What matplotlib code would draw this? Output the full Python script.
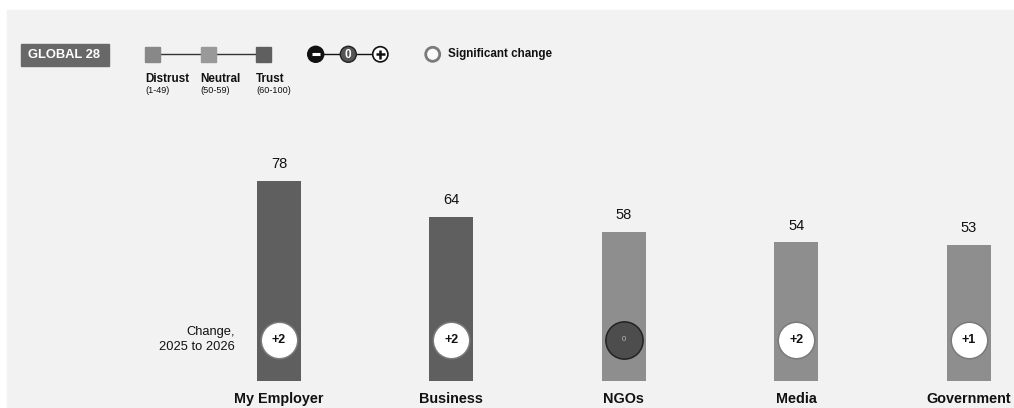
import matplotlib.pyplot as plt
from matplotlib.patches import Rectangle, Circle

plt.rcParams['font.family'] = ['Liberation Sans', 'DejaVu Sans']

# data
categories = ['My Employer', 'Business', 'NGOs', 'Media', 'Government']
trust = [78, 64, 58, 54, 53]
change = [2, 2, 0, 2, 1]
change_labels = ['+2', '+2', '0', '+2', '+1']
legend_levels = ['Distrust', 'Neutral', 'Trust']
legend_ranges = ['(1-49)', '(50-59)', '(60-100)']

TRUST_COL = '#5f5f5f'
NEUTRAL_COL = '#8e8e8e'
DISTRUST_COL = '#888888'
PANEL = '#f2f2f2'

W, H = 1014, 408
fig = plt.figure(figsize=(W / 100, H / 100), dpi=100)
fig.patch.set_facecolor('white')

# background panel (pixel coords)
fig.patches.append(Rectangle((7 / W, 0), 1 - 7 / W, (H - 10) / H,
                             transform=fig.transFigure, color=PANEL, zorder=-10))

# --- bar axes: y=0 at pixel 381, 2.568 px per unit
px_per_unit = 2.568
bottom_px = 381
top_px = 10
ax = fig.add_axes([0, (H - bottom_px) / H, 1, (bottom_px - top_px) / H])
ax.patch.set_alpha(0)
spacing = 172.4
x0 = 279
ax.set_xlim(-x0 / spacing, (W - x0) / spacing)
ax.set_ylim(0, (bottom_px - top_px) / px_per_unit)

xs = list(range(len(categories)))
colors = [TRUST_COL if v >= 60 else (NEUTRAL_COL if v >= 50 else DISTRUST_COL) for v in trust]
ax.bar(xs, trust, width=0.255, color=colors, zorder=2)

for x, v in zip(xs, trust):
    ax.annotate(str(v), (x, v), xytext=(0, 12), textcoords='offset points',
                ha='center', va='center', fontsize=10.5, color='#111111')

circle_y = (bottom_px - 339.6) / px_per_unit
for x, c, lab in zip(xs, change, change_labels):
    if c > 0:
        ax.scatter([x], [circle_y], s=690, facecolor='white', edgecolor='#7a7a7a',
                   linewidth=1.1, zorder=3)
        ax.text(x, circle_y, lab, ha='center', va='center', fontsize=9,
                fontweight='bold', color='#111111', zorder=4)
    else:
        ax.scatter([x], [circle_y], s=720, facecolor='#4d4d4d', edgecolor='#222222',
                   linewidth=1.1, zorder=3)
        ax.text(x, circle_y, lab, ha='center', va='center', fontsize=5.5,
                color='#bbbbbb', zorder=4)

ax.set_xticks(xs)
ax.set_xticklabels(categories, fontsize=10.4, fontweight='bold', color='#111111')
ax.tick_params(axis='x', length=0, pad=8)
ax.set_yticks([])
for s in ax.spines.values():
    s.set_visible(False)

# --- overlay axes in pixel coordinates for legend / notes
lx = fig.add_axes([0, 0, 1, 1])
lx.set_xlim(0, W)
lx.set_ylim(H, 0)
lx.axis('off')
lx.patch.set_alpha(0)

lx.add_patch(Rectangle((20.5, 43.5), 88.5, 22.5, color='#686868'))
lx.text(64.5, 55, 'GLOBAL 28', ha='center', va='center', fontsize=9.3,
        fontweight='bold', color='white')

sq_x = [152.5, 208, 263.5]
sq_cols = [DISTRUST_COL, '#999999', TRUST_COL]
lx.plot([sq_x[0], sq_x[-1]], [54, 54], color='#333333', lw=1, zorder=1)
for x, col, lev, rng in zip(sq_x, sq_cols, legend_levels, legend_ranges):
    lx.add_patch(Rectangle((x - 7.5, 46.5), 15, 15, color=col, zorder=2))
    lx.text(x - 7.5, 78.5, lev, ha='left', va='center', fontsize=8.4,
            fontweight='bold', color='#111111')
    lx.text(x - 7.5, 90.5, rng, ha='left', va='center', fontsize=6.6,
            color='#111111')

# minus / zero / plus
cy = 54.3
lx.plot([315.7, 380.3], [cy, cy], color='#111111', lw=1, zorder=1)
lx.add_patch(Circle((315.7, cy), 8, facecolor='#111111', edgecolor='#111111', zorder=2))
lx.plot([311.5, 319.9], [cy, cy], color='white', lw=2.2, solid_capstyle='butt', zorder=3)
lx.add_patch(Circle((348.3, cy), 8, facecolor='#555555', edgecolor='#222222', lw=1, zorder=2))
lx.text(348.3, cy + 0.5, '0', ha='center', va='center', fontsize=8.5,
        fontweight='bold', color='white', zorder=3)
lx.add_patch(Circle((380.3, cy), 7.6, facecolor='white', edgecolor='#111111', lw=1.2, zorder=2))
lx.plot([375.5, 385.1], [cy, cy], color='#111111', lw=1.8, solid_capstyle='butt', zorder=3)
lx.plot([380.3, 380.3], [cy - 4.8, cy + 4.8], color='#111111', lw=1.8,
        solid_capstyle='butt', zorder=3)

# significant change ring
lx.add_patch(Circle((432.7, cy), 7, facecolor='#fafafa', edgecolor='#7a7a7a', lw=2, zorder=2))
lx.text(447.7, cy, 'Significant change', ha='left', va='center', fontsize=8.4,
        fontweight='bold', color='#111111')

lx.text(235, 339.5, 'Change,\n2025 to 2026', ha='right', va='center', fontsize=9.3,
        color='#111111', linespacing=1.25)

fig.savefig('out.png', dpi=100, facecolor=fig.get_facecolor())
